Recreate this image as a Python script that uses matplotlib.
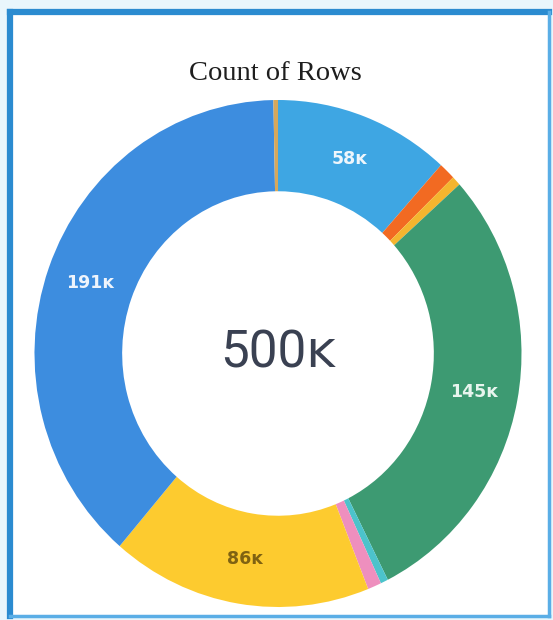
import matplotlib
matplotlib.use("Agg")
import matplotlib.pyplot as plt
import numpy as np
from matplotlib.patches import Rectangle
from matplotlib.lines import Line2D

# data (clockwise from 12 o'clock)
categories = ["A", "B", "C", "D", "E", "F", "G", "H", "I"]
values = [58, 5.5, 3, 145, 2.5, 4.5, 86, 191, 1.5]  # thousands
colors = ["#3ea6e3", "#f26a22", "#f4b52f", "#3d9a72", "#4cc3cb", "#ee8fbe",
          "#fdcb2f", "#3d8ddf", "#d6a85c"]
label_colors = ["#eef6fc", None, None, "#e8f5ee", None, None, "#7f6212", "#eef4fc", None]
show_label = [True, False, False, True, False, False, True, True, False]
title = "Count of Rows"
center_text = "500ᴋ"

W, H = 553, 620
fig = plt.figure(figsize=(W / 100, H / 100), dpi=100)
fig.patch.set_facecolor("#e9f6fc")

# white panel with blue frame
ax_bg = fig.add_axes([0, 0, 1, 1])
ax_bg.set_xlim(0, W)
ax_bg.set_ylim(H, 0)
ax_bg.axis("off")
ax_bg.add_patch(Rectangle((9, 12), 540, 604, facecolor="white", edgecolor="none"))
ax_bg.add_line(Line2D([9.5, 9.5], [12, 616], color="#2b8bd0", lw=4.5))
ax_bg.add_line(Line2D([9.5, 549], [12, 12], color="#2b8bd0", lw=4.5))
ax_bg.add_line(Line2D([549, 549], [12, 616], color="#5aaee6", lw=2.5))
ax_bg.add_line(Line2D([9.5, 549], [616, 616], color="#5aaee6", lw=2.5))
ax_bg.text(275, 73, title, ha="center", va="center", fontsize=20.5,
           family="Liberation Serif", color="#1e1e1e")

# donut axes: center (278, 353) px, radii 243 (x) and 253 (y)
cx, cy = 278.0, 353.5
rx, ry = 243.5, 253.5
ax = fig.add_axes([0, 0, 1, 1])
wedges, _ = ax.pie(values, colors=colors, startangle=90, counterclock=False,
                   radius=1.0, wedgeprops=dict(width=0.36, linewidth=0))
ax.set_aspect("auto")
ax.set_xlim(-cx / rx, (W - cx) / rx)
ax.set_ylim(-(H - cy) / ry, cy / ry)
ax.axis("off")

for w, v, show, lc in zip(wedges, values, show_label, label_colors):
    if not show:
        continue
    ang = np.deg2rad((w.theta1 + w.theta2) / 2)
    r = 0.82
    ax.text(r * np.cos(ang), r * np.sin(ang), f"{v:.0f}ᴋ", ha="center", va="center",
            fontsize=12.5, color=lc, family=["DejaVu Sans"], weight="semibold")

ax.text(0, 0, center_text, ha="center", va="center", fontsize=37,
        color="#3a4152", family=["Roboto", "DejaVu Sans"])

fig.savefig("out.png", dpi=100, facecolor=fig.get_facecolor())
